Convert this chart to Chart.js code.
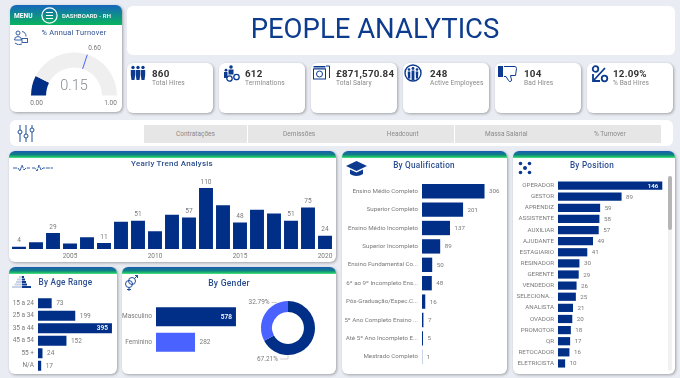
<!DOCTYPE html>
<html lang="en">
<head>
  <meta charset="UTF-8" />
  <title>People Analytics</title>
  <script src="https://cdn.jsdelivr.net/npm/chart.js"></script>
  <style>
    html, body { margin: 0; padding: 0; }
    body {
      width: 680px; height: 378px; overflow: hidden; position: relative;
      background: #e9ecf2; font-family: Roboto, sans-serif; color: #777;
      filter: blur(0.35px);
    }
    .card {
      position: absolute; background: #fff; border-radius: 6px; overflow: hidden;
      box-shadow: 1px 1px 3px rgba(0,0,0,.32);
    }
    .flat { box-shadow: none; }
    .band {
      position: absolute; left: 0; right: 0; top: 0; height: 7px;
      background: linear-gradient(#1a5cb4 0%, #0f7d86 50%, #22c46a 85%, #5fe88e 100%);
    }
    .t { position: absolute; white-space: nowrap; line-height: 1; }
    .c { transform: translateX(-50%); }
    .sec { color: #2a4d8f; font-weight: 500; letter-spacing: .25px; }
    canvas, svg { position: absolute; }
    svg { fill: #0b3a8f; }
    .btn {
      position: absolute; top: 125px; height: 18px; background: #e6e6e6;
      color: #8a8a8a; font-size: 6.5px; line-height: 18px; text-align: center;
    }
    .kv { font-size: 9.8px; font-weight: 700; color: #333; letter-spacing: .2px; }
    .kl { font-size: 6.6px; color: #8a8a8a; letter-spacing: .1px; }
  </style>
</head>
<body>
  <!-- menu + gauge -->
  <div class="card" style="left:10px;top:5px;width:112px;height:107px">
    <div style="position:absolute;left:0;right:0;top:0;height:20px;background:linear-gradient(#1766bd,#07b45c)"></div>
  </div>
  <div class="t" style="left:14px;top:13px;font-size:6.6px;font-weight:700;color:#fff">MENU</div>
  <svg style="left:40px;top:6px" width="19" height="19" viewBox="0 0 19 19">
    <circle cx="9.5" cy="9.5" r="7.6" fill="none" stroke="#fff" stroke-width="1.2"/>
    <path d="M6 6.5h7M6 9.5h7M6 12.5h7" stroke="#fff" stroke-width="1.1"/>
  </svg>
  <div class="t" style="left:62px;top:13px;font-size:6px;font-weight:700;color:#e8f2ee">DASHBOARD - RH</div>
  <div class="t c sec" style="left:74px;top:29px;font-size:7.4px;font-weight:400">% Annual Turnover</div>
  <svg style="left:13px;top:29px" width="15" height="16" viewBox="0 0 15 16">
    <g fill="none" stroke="#1f4f9c" stroke-width=".9">
      <circle cx="5" cy="4" r="2"/><path d="M1.500 11a3.500 3.500 0 0 1 7 0zM9 2.500a5 5 0 0 1 4 5M2 14a6 6 0 0 0 7 1"/>
      <rect x="9" y="9.500" width="5.500" height="4"/>
    </g>
  </svg>
  <canvas id="gaugeChart" width="88" height="45" style="left:30px;top:51px"></canvas>
  <div class="t c" id="gaugeValue" style="left:74px;top:79px;font-size:14.500px;font-weight:300;color:#8a8f94"></div>
  <div class="t c" id="gaugeTarget" style="left:94.500px;top:45px;font-size:6.500px;color:#777"></div>
  <div class="t c" id="gaugeMin" style="left:36.500px;top:100px;font-size:6.500px;color:#777"></div>
  <div class="t c" id="gaugeMax" style="left:110.500px;top:100px;font-size:6.500px;color:#777"></div>

  <!-- title -->
  <div class="card flat" style="left:127px;top:6px;width:548px;height:49px"></div>
  <div class="t c" style="left:375px;top:14.500px;font-size:27.500px;font-weight:400;color:#0d3c8e;letter-spacing:0">PEOPLE ANALYTICS</div>

  <!-- kpi row -->
  <div id="kpis"></div>
  <svg style="left:130px;top:65px" width="16" height="16" viewBox="0 0 16 16"><circle cx="3" cy="2.500" r="1.700"/><circle cx="8" cy="2.500" r="1.700"/><circle cx="13" cy="2.500" r="1.700"/><path d="M.8 5h4.400v5l-.7 5h-3l-.7-5zM5.800 5h4.400v5l-.7 5h-3l-.7-5zM10.800 5h4.400v5l-.7 5h-3l-.7-5z"/></svg>
  <svg style="left:223px;top:65px" width="17" height="17" viewBox="0 0 17 17"><circle cx="8" cy="2" r="1.800"/><path d="M5.500 4.500h5v5h-5zM1 7h3.500v6H1z"/><circle cx="3" cy="5.200" r="1.400"/><circle cx="6.500" cy="13.500" r="2.700" fill="none" stroke="#0b3a8f" stroke-width="1.300"/><circle cx="13.500" cy="12" r="2.700" fill="none" stroke="#0b3a8f" stroke-width="1.300"/></svg>
  <svg style="left:313px;top:65px" width="17" height="15" viewBox="0 0 17 15"><g fill="none" stroke="#0b3a8f" stroke-width="1"><rect x=".5" y="4" width="12" height="10"/><circle cx="6.500" cy="9" r="3"/><path d="M13 1h3.500v12M.5 1.500h12M.5 3h12"/></g></svg>
  <svg style="left:404px;top:64px" width="18" height="18" viewBox="0 0 18 18"><circle cx="9" cy="9" r="8" fill="none" stroke="#0b3a8f" stroke-width="1.400"/><circle cx="5" cy="5.500" r="1.300"/><circle cx="9" cy="4.500" r="1.400"/><circle cx="13" cy="5.500" r="1.300"/><path d="M3.700 7.500h2.600v7H4zM7.600 6.500h2.800v9.500H7.600zM11.700 7.500h2.600l-.3 7h-2z"/></svg>
  <svg style="left:498px;top:65px" width="20" height="18" viewBox="0 0 20 18"><rect x="0" y="1" width="5" height="11"/><path d="M6 1.500h11a2 2 0 0 1 1.500 2l-1 7h-5l1 4.500c0 2-2.500 2-3 .5L8 11.500H6" fill="none" stroke="#0b3a8f" stroke-width="1"/></svg>
  <svg style="left:591px;top:65px" width="18" height="18" viewBox="0 0 18 18"><circle cx="4.500" cy="4" r="2.800" fill="none" stroke="#0b3a8f" stroke-width="1.800"/><circle cx="13.500" cy="13.500" r="2.800" fill="none" stroke="#0b3a8f" stroke-width="1.800"/><path d="M14 3L3 15M2 9v7h7" fill="none" stroke="#0b3a8f" stroke-width="1.800"/></svg>

  <!-- filter row -->
  <div class="card flat" style="left:10px;top:120px;width:663px;height:26px"></div>
  <svg style="left:17px;top:125px;fill:none" width="18" height="17" viewBox="0 0 18 17"><g fill="none" stroke="#1f4f9c" stroke-width="1"><path d="M3 0v5M3 9v8M9 0v9M9 13v4M15 0v3M15 7v10"/><circle cx="3" cy="7" r="2"/><circle cx="9" cy="11" r="2"/><circle cx="15" cy="5" r="2"/></g></svg>
  <div id="btns"></div>

  <!-- yearly -->
  <div class="card" style="left:9px;top:151px;width:327px;height:111px"><div class="band"></div></div>
  <div class="t c sec" style="left:172px;top:160px;font-size:8px">Yearly Trend Analysis</div>
  <svg style="left:13px;top:163px" width="41" height="10" viewBox="0 0 41 10"><path d="M0 5h5l2 3 2-6 2 5 2-2h4M19 5h3l2 3 2-6 2 5 2-2h10" fill="none" stroke="#1f4f9c" stroke-width=".9" stroke-dasharray="4 .8"/></svg>
  <canvas id="yearChart" width="327" height="84" style="left:9px;top:177px"></canvas>

  <!-- age -->
  <div class="card" style="left:9px;top:267px;width:108px;height:107px"><div class="band"></div></div>
  <div class="t sec" style="left:38.500px;top:278px;font-size:8.200px">By Age Range</div>
  <svg style="left:11px;top:276px" width="22" height="14" viewBox="0 0 22 14"><path d="M8 0h3v2H8zM6 2.500h5v2H6zM5 5h6v2H5zM3.500 7.500H11v2H3.500zM1 10h10v2H1z" fill="#c8d2e4"/><path d="M11 0h2v2h-2zM11 2.500h3v2h-3zM11 5h4v2h-4zM11 7.500h5v2h-5zM11 10h9v2h-9z"/></svg>
  <canvas id="ageChart" width="108" height="75" style="left:9px;top:297px"></canvas>

  <!-- gender -->
  <div class="card" style="left:122px;top:267px;width:214px;height:107px"><div class="band"></div></div>
  <div class="t c sec" style="left:229px;top:279px;font-size:8.600px">By Gender</div>
  <svg style="left:124px;top:275px" width="15" height="16" viewBox="0 0 15 16"><g fill="none" stroke="#1f4f9c" stroke-width="1"><circle cx="5" cy="9" r="3.500"/><circle cx="8" cy="6" r="3.500"/><path d="M5 12.500V16M3 14.500h4M10.500 3.500L13.500 .5M11 .5h2.500V3"/></g></svg>
  <canvas id="genderChart" width="130" height="51" style="left:122px;top:304px"></canvas>
  <canvas id="donutChart" width="120" height="80" style="left:228px;top:288px"></canvas>

  <!-- qualification -->
  <div class="card" style="left:342px;top:151px;width:165px;height:223px"><div class="band"></div></div>
  <div class="t c sec" style="left:424px;top:161px;font-size:8.200px">By Qualification</div>
  <svg style="left:346px;top:161px" width="21" height="15" viewBox="0 0 21 15"><path d="M10.500 0L21 5l-10.500 5L0 5z"/><path d="M4 8.500l6.500 3 6.500-3V13c-4 2.500-9 2.500-13 0z"/></svg>
  <canvas id="qualChart" width="165" height="184" style="left:342px;top:182px"></canvas>

  <!-- position -->
  <div class="card" style="left:513px;top:151px;width:162px;height:223px"><div class="band"></div></div>
  <div class="t c sec" style="left:592px;top:161px;font-size:8.200px">By Position</div>
  <svg style="left:518px;top:161px" width="14" height="14" viewBox="0 0 14 14"><circle cx="2.500" cy="2.500" r="1.800"/><circle cx="11.500" cy="2.500" r="1.800"/><circle cx="7" cy="7" r="2"/><circle cx="2.500" cy="11.500" r="1.800"/><circle cx="11.500" cy="11.500" r="1.800"/></svg>
  <canvas id="posChart" width="155" height="189" style="left:513px;top:179.500px"></canvas>
  <div style="position:absolute;left:668px;top:176px;width:4px;height:195px;background:#f1f1f1;border-radius:2px"></div>
  <div style="position:absolute;left:668px;top:176px;width:4px;height:54px;background:#b5b5b5;border-radius:2px"></div>

  <script>
    // gauge
    const gaugeValue = 0.15;
    const gaugeTarget = 0.60;
    const gaugeMin = 0;
    const gaugeMax = 1;

    // kpi cards + filter buttons
    const kpiValues = ['860', '612', '£871,570.84', '248', '104', '12.09%'];
    const kpiLabels = ['Total Hires', 'Terminations', 'Total Salary', 'Active Employees', 'Bad Hires', '% Bad Hires'];
    const tabLabels = ['Contratações', 'Demissões', 'Headcount', 'Massa Salarial', '% Turnover'];

    // yearly trend
    const years = ['2002','2003','2004','2005','2006','2007','2008','2009','2010','2011','2012','2013','2014','2015','2016','2017','2018','2019','2020'];
    const yearHires = [4, 12, 29, 10, 21, 11, 49, 51, 32, 62, 57, 110, 79, 48, 71, 64, 51, 75, 24];
    const yearTicks = ['2005', '2010', '2015', '2020'];
    const yearLabelled = ['2002', '2004', '2007', '2009', '2012', '2013', '2015', '2018', '2019', '2020'];

    const ageRanges = ['15 a 24', '25 a 34', '35 a 44', '45 a 54', '55 +', 'N/A'];
    const ageHires = [73, 199, 395, 152, 24, 17];

    const genders = ['Masculino', 'Feminino'];
    const genderHires = [578, 282];
    const genderShares = ['67.21%', '32.79%'];

    const qualifications = ['Ensino Médio Completo', 'Superior Completo', 'Ensino Médio Incompleto', 'Superior Incompleto', 'Ensino Fundamental Co...', '6º ao 9º Incompleto Ens...', 'Pós-Graduação/Espec.C...', '5º Ano Completo Ensino ...', 'Até 5º Ano Incompleto E...', 'Mestrado Completo'];
    const qualHires = [306, 201, 137, 89, 50, 48, 16, 7, 5, 1];

    const positions = ['OPERADOR', 'GESTOR', 'APRENDIZ', 'ASSISTENTE', 'AUXILIAR', 'AJUDANTE', 'ESTAGIARIO', 'RESINADOR', 'GERENTE', 'VENDEDOR', 'SELECIONA...', 'ANALISTA', 'OVADOR', 'PROMOTOR', 'QR', 'RETOCADOR', 'ELETRICISTA'];
    const posHires = [146, 89, 59, 58, 57, 49, 41, 30, 29, 26, 25, 21, 20, 18, 17, 16, 10];

    const NAVY = '#012f87';
    const BLUE = '#4a62ff';
    const FONT = 'Roboto, sans-serif';
    Chart.defaults.font.family = FONT;
    Chart.defaults.animation = false;
    Chart.defaults.plugins.legend.display = false;
    Chart.defaults.plugins.tooltip.enabled = false;

    // fill the html bits
    document.getElementById('gaugeValue').textContent = gaugeValue.toFixed(2);
    document.getElementById('gaugeTarget').textContent = gaugeTarget.toFixed(2);
    document.getElementById('gaugeMin').textContent = gaugeMin.toFixed(2);
    document.getElementById('gaugeMax').textContent = gaugeMax.toFixed(2);

    const kpiX = [127, 219, 311, 403, 495, 587];
    const kpiTextX = [152, 245, 336, 430, 524, 613];
    kpiValues.forEach((v, i) => {
      document.getElementById('kpis').insertAdjacentHTML('beforeend',
        `<div class="card" style="left:${kpiX[i]}px;top:63px;width:86px;height:50px"></div>` +
        `<div class="t kv" style="left:${kpiTextX[i]}px;top:69px">${v}</div>` +
        `<div class="t kl" style="left:${kpiTextX[i]}px;top:80px">${kpiLabels[i]}</div>`);
    });
    tabLabels.forEach((t, i) => {
      document.getElementById('btns').insertAdjacentHTML('beforeend',
        `<div class="btn" style="left:${144 + i * 103.6}px;width:103px">${t}</div>`);
    });

    // draws the number next to each bar, only for the bars asked for
    const valueLabels = {
      id: 'valueLabels',
      afterDatasetsDraw(chart, args, opts) {
        const c = chart.ctx;
        const meta = chart.getDatasetMeta(0);
        const vals = chart.data.datasets[0].data;
        const horizontal = chart.options.indexAxis === 'y';
        c.save();
        c.textBaseline = 'middle';
        meta.data.forEach((bar, i) => {
          if (opts.only && !opts.only.includes(chart.data.labels[i])) return;
          const inside = vals[i] === opts.insideValue;
          c.font = (inside ? '600 ' : '') + opts.size + 'px ' + FONT;
          c.fillStyle = inside ? '#fff' : '#7a7a7a';
          if (horizontal) {
            c.textAlign = inside ? 'right' : 'left';
            c.fillText(vals[i], bar.x + (inside ? -4 : 4.5), bar.y + 0.5);
          } else {
            c.textAlign = 'center';
            c.fillText(vals[i], bar.x, bar.y - 6);
          }
        });
        c.restore();
      }
    };

    function hbar(id, labels, values, opts) {
      return new Chart(document.getElementById(id), {
        type: 'bar',
        data: {
          labels: labels,
          datasets: [{
            data: values,
            backgroundColor: opts.colors || NAVY,
            barPercentage: 1,
            categoryPercentage: opts.thick
          }]
        },
        plugins: [valueLabels],
        options: {
          indexAxis: 'y',
          responsive: false,
          layout: { padding: 0 },
          scales: {
            x: { display: false, min: 0, max: opts.max },
            y: {
              // fixed gutter, and no extra space above/below the first and last label
              afterFit(s) { s.width = opts.axisWidth; s.paddingTop = 0; s.paddingBottom = 0; },
              grid: { display: false, drawTicks: false },
              border: { display: false },
              ticks: { autoSkip: false, padding: opts.pad || 4, color: '#7a7a7a', font: { size: opts.size } }
            }
          },
          plugins: { valueLabels: { size: opts.size, insideValue: opts.insideValue } }
        }
      });
    }

    hbar('ageChart', ageRanges, ageHires, { max: 422, axisWidth: 29, thick: 0.8, size: 6.5, insideValue: 395 });
    hbar('genderChart', genders, genderHires, { max: 694, axisWidth: 34, thick: 0.75, size: 6.5, insideValue: 578, colors: [NAVY, BLUE] });
    hbar('qualChart', qualifications, qualHires, { max: 416, axisWidth: 80, thick: 0.78, size: 6.2 });
    hbar('posChart', positions, posHires, { max: 154, axisWidth: 45, thick: 0.74, size: 6.2, insideValue: 146 });

    new Chart(document.getElementById('yearChart'), {
      type: 'bar',
      data: {
        labels: years,
        datasets: [{ data: yearHires, backgroundColor: NAVY, barPercentage: 1, categoryPercentage: 0.82 }]
      },
      plugins: [valueLabels],
      options: {
        responsive: false,
        layout: { padding: { left: 1.5, right: 2.5 } },
        scales: {
          y: { display: false, min: 0, max: 130 },
          x: {
            afterFit(s) { s.height = 12; s.paddingLeft = 0; s.paddingRight = 0; },
            grid: { display: false, drawTicks: false },
            border: { display: false },
            ticks: {
              autoSkip: false, maxRotation: 0, padding: 3, color: '#7a7a7a', font: { size: 6.5 },
              callback(v) { const y = this.getLabelForValue(v); return yearTicks.includes(y) ? y : ''; }
            }
          }
        },
        plugins: { valueLabels: { size: 6.5, only: yearLabelled } }
      }
    });

    // target mark across the gauge band
    const gaugeTick = {
      id: 'gaugeTick',
      afterDatasetsDraw(chart) {
        const arc = chart.getDatasetMeta(0).data[0];
        const a = Math.PI + Math.PI * (gaugeTarget - gaugeMin) / (gaugeMax - gaugeMin);
        const c = chart.ctx;
        c.save();
        c.strokeStyle = BLUE;
        c.lineWidth = 1;
        c.beginPath();
        c.moveTo(arc.x + Math.cos(a) * arc.innerRadius, arc.y + Math.sin(a) * arc.innerRadius);
        c.lineTo(arc.x + Math.cos(a) * arc.outerRadius, arc.y + Math.sin(a) * arc.outerRadius);
        c.stroke();
        c.restore();
      }
    };
    new Chart(document.getElementById('gaugeChart'), {
      type: 'doughnut',
      data: {
        labels: ['Turnover', 'Rest'],
        datasets: [{ data: [gaugeValue, gaugeMax - gaugeValue], backgroundColor: [NAVY, '#efefef'], borderWidth: 0 }]
      },
      plugins: [gaugeTick],
      options: { responsive: false, rotation: -90, circumference: 180, cutout: '65%', layout: { padding: { left: 1, right: 1, top: 1 } } }
    });

    // share labels with small leader lines
    const donutLabels = {
      id: 'donutLabels',
      afterDatasetsDraw(chart) {
        const arc = chart.getDatasetMeta(0).data[0];
        const c = chart.ctx;
        const r = arc.outerRadius;
        const lines = [
          { text: genderShares[1], ang: -25, dy: -1, len: 5 },
          { text: genderShares[0], ang: 180, dy: 4, len: 8 }
        ];
        c.save();
        c.font = '6.5px ' + FONT;
        c.fillStyle = '#7a7a7a';
        c.strokeStyle = '#bbb';
        c.lineWidth = 0.7;
        c.textAlign = 'right';
        c.textBaseline = 'middle';
        lines.forEach(l => {
          const t = l.ang * Math.PI / 180;
          const x = arc.x + Math.sin(t) * r;
          const y = arc.y - Math.cos(t) * r;
          const ey = y + l.dy;
          c.beginPath();
          c.moveTo(x, y);
          c.lineTo(x, ey);
          c.lineTo(x - l.len, ey);
          c.stroke();
          c.fillText(l.text, x - l.len - 2, ey);
        });
        c.restore();
      }
    };
    new Chart(document.getElementById('donutChart'), {
      type: 'doughnut',
      data: {
        labels: genders,
        datasets: [{ data: genderHires, backgroundColor: [NAVY, BLUE], borderWidth: 0 }]
      },
      plugins: [donutLabels],
      options: { responsive: false, cutout: '59%', radius: 27 }
    });
  </script>
</body>
</html>
